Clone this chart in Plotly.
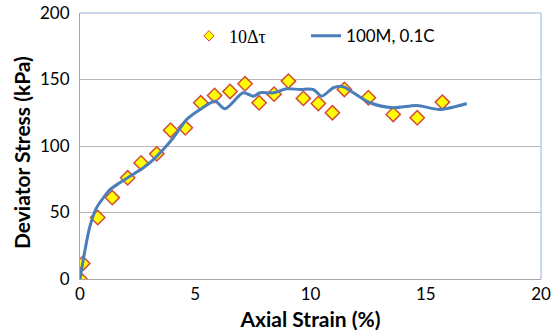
import plotly.graph_objects as go

# Experimental points (10Δτ)
pts_strain = [0.0, 0.12, 0.77, 1.40, 2.07, 2.65, 3.33, 3.93, 4.57, 5.24, 5.84, 6.51, 7.16,
              7.77, 8.42, 9.04, 9.69, 10.34, 10.95, 11.47, 12.51, 13.59, 14.63, 15.72]
pts_stress = [0.0, 11.7, 46.2, 61.2, 76.1, 87.3, 94.1, 111.9, 113.7, 132.5, 138.0, 141.0, 146.8,
              132.5, 139.0, 148.8, 135.8, 132.0, 125.0, 142.5, 136.3, 123.7, 121.2, 133.0]

# Model curve (100M, 0.1C)
line_strain = [0.0, 0.22, 0.43, 0.72, 1.01, 1.30, 1.74, 2.17, 2.75, 3.11, 3.61, 4.05, 4.63,
               5.21, 5.86, 6.29, 7.08, 7.52, 7.81, 8.39, 8.97, 9.54, 10.12, 10.49, 10.99,
               11.42, 11.86, 12.58, 13.59, 14.61, 15.62, 16.78]
line_stress = [0.0, 22.0, 39.6, 53.7, 61.0, 67.2, 72.5, 77.3, 83.6, 88.6, 97.4, 106.2, 120.0,
               127.5, 133.7, 128.0, 140.0, 137.5, 140.0, 140.0, 143.0, 142.5, 142.5, 137.5, 143.8,
               144.6, 140.0, 132.5, 128.8, 130.5, 127.5, 132.0]

x_ticks = [0, 5, 10, 15, 20]
y_ticks = [0, 50, 100, 150, 200]

FONT = "Lato"
MARKER_FILL = "#FFFF00"
MARKER_EDGE = "#D24B3C"

fig = go.Figure()
fig.add_trace(go.Scatter(
    x=pts_strain, y=pts_stress, mode="markers", showlegend=False,
    marker=dict(symbol="diamond", size=11, color=MARKER_FILL,
                line=dict(color=MARKER_EDGE, width=1.5)),
))
# legend entry for the points (smaller symbol as in the original legend)
fig.add_trace(go.Scatter(
    x=[None], y=[None], mode="markers", legend="legend",
    name='<span style="font-family:Liberation Serif">10Δτ</span>',
    marker=dict(symbol="diamond", size=8, color=MARKER_FILL,
                line=dict(color=MARKER_EDGE, width=1)),
))
fig.add_trace(go.Scatter(
    x=line_strain, y=line_stress, mode="lines", name="100M, 0.1C", legend="legend2",
    line=dict(color="#4A7EBB", width=3, shape="spline", smoothing=0.8),
))

legend_common = dict(orientation="h", yanchor="middle", xanchor="left", y=0.913,
                     bgcolor="rgba(0,0,0,0)")

fig.update_layout(
    width=553, height=336,
    margin=dict(l=80, r=12, t=13, b=57, autoexpand=False),
    paper_bgcolor="white", plot_bgcolor="white",
    font=dict(family=FONT, size=17, color="black"),
    showlegend=True,
    legend=dict(x=0.2364, font=dict(size=18, family=FONT), **legend_common),
    legend2=dict(x=0.4903, font=dict(size=17, family=FONT), **legend_common),
    xaxis=dict(range=[0, 20], tickvals=x_ticks, showgrid=False, zeroline=False,
               showline=True, linecolor="#A6A6A6", linewidth=1, ticks="", automargin=False,
               title=dict(text="<b>Axial Strain (%)</b>", font=dict(size=21), standoff=8),
               tickfont=dict(size=17)),
    yaxis=dict(range=[0, 200], tickvals=y_ticks, showgrid=True, gridcolor="#B7B7B7",
               gridwidth=1, zeroline=False, showline=True, linecolor="#A6A6A6",
               linewidth=1, ticks="", automargin=False, ticklabelstandoff=6,
               tickfont=dict(size=17)),
    annotations=[dict(text="<b>Deviator Stress (kPa)</b>", textangle=-90,
                      xref="paper", yref="paper", x=-0.1258, y=0.4737,
                      xanchor="center", yanchor="middle", showarrow=False,
                      font=dict(size=21, family=FONT))],
)
# plot-area frame (top and right edges)
fig.add_shape(type="line", xref="x domain", yref="y domain", x0=0, x1=1, y0=1, y1=1,
              line=dict(color="#9BB4D6", width=1))
fig.add_shape(type="line", xref="x domain", yref="y domain", x0=1, x1=1, y0=0, y1=1,
              line=dict(color="#9BB4D6", width=1))

fig.write_html("out.html")
